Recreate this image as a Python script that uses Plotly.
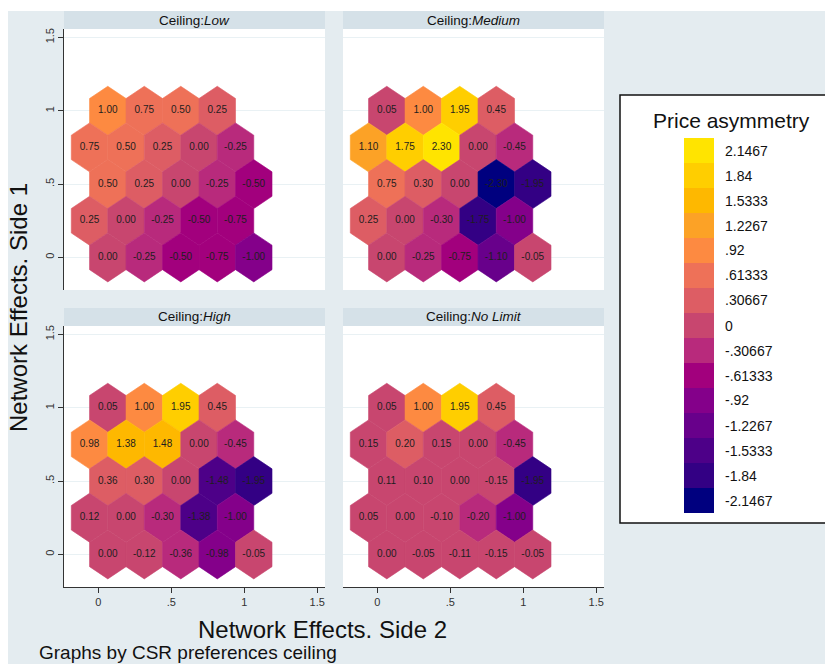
import numpy as np
import plotly.graph_objects as go

# ---------------- data ----------------
panel_names = ["Low", "Medium", "High", "No Limit"]
row_y = [1.0, 0.75, 0.5, 0.25, 0.0]   # hex rows, top to bottom

low_vals = [
    [1.00, 0.75, 0.50, 0.25],
    [0.75, 0.50, 0.25, 0.00, -0.25],
    [0.50, 0.25, 0.00, -0.25, -0.50],
    [0.25, 0.00, -0.25, -0.50, -0.75],
    [0.00, -0.25, -0.50, -0.75, -1.00],
]
medium_vals = [
    [0.05, 1.00, 1.95, 0.45],
    [1.10, 1.75, 2.30, 0.00, -0.45],
    [0.75, 0.30, 0.00, -2.30, -1.95],
    [0.25, 0.00, -0.30, -1.75, -1.00],
    [0.00, -0.25, -0.75, -1.10, -0.05],
]
high_vals = [
    [0.05, 1.00, 1.95, 0.45],
    [0.98, 1.38, 1.48, 0.00, -0.45],
    [0.36, 0.30, 0.00, -1.48, -1.95],
    [0.12, 0.00, -0.30, -1.38, -1.00],
    [0.00, -0.12, -0.36, -0.98, -0.05],
]
nolimit_vals = [
    [0.05, 1.00, 1.95, 0.45],
    [0.15, 0.20, 0.15, 0.00, -0.45],
    [0.11, 0.10, 0.00, -0.15, -1.95],
    [0.05, 0.00, -0.10, -0.20, -1.00],
    [0.00, -0.05, -0.11, -0.15, -0.05],
]
all_vals = [low_vals, medium_vals, high_vals, nolimit_vals]

legend_labels = ["2.1467", "1.84", "1.5333", "1.2267", ".92", ".61333", ".30667", "0",
                 "-.30667", "-.61333", "-.92", "-1.2267", "-1.5333", "-1.84", "-2.1467"]
legend_levels = [2.1467, 1.84, 1.5333, 1.2267, 0.92, 0.61333, 0.30667, 0.0,
                 -0.30667, -0.61333, -0.92, -1.2267, -1.5333, -1.84, -2.1467]
legend_colors = ["#ffe400", "#ffce00", "#feb800", "#fca226", "#fd8a41", "#ee7158",
                 "#dd5d64", "#c8466f", "#b82a7c", "#a2007d", "#84008a", "#68008b",
                 "#4d0088", "#330084", "#00007f"]

tick_vals = [0, 0.5, 1, 1.5]
tick_text = ["0", ".5", "1", "1.5"]

# ---------------- geometry / style ----------------
OFF = 8                      # page body margin
W, H = 833 - OFF, 664 - OFF
FONT = "Liberation Sans, Arial, sans-serif"
BG = "#e4ecf0"
BAR = "#d5e1e8"
HEX_W = 0.125        # half width
HEX_R = 1.0 / 6.0    # center-to-vertex (vertical)
ROW_START = [0.065, -0.06]

panels_px = [((64, 325), (29, 290)), ((343, 604), (29, 290)),
             ((64, 325), (326, 587)), ((343, 604), (326, 587))]
XR = [-0.235, 1.553]
YR = [-0.222, 1.557]


def px_x(p):
    return (p - OFF) / W


def px_y(p):
    return 1 - (p - OFF) / H


step = 4.6 / 15.0


def color_for(v):
    idx = int(np.sign(v) * np.floor(abs(v) / step + 0.5 + 1e-9))
    idx = max(-7, min(7, idx))
    return legend_colors[7 - idx]


fig = go.Figure()
layout_axes = {}
shapes = []
annotations = []

for p, (name, vals) in enumerate(zip(panel_names, all_vals)):
    n = p + 1
    xa = "x" if n == 1 else f"x{n}"
    ya = "y" if n == 1 else f"y{n}"
    (x0, x1), (y0, y1) = panels_px[p]
    tx, ty, tt = [], [], []
    for ri, (yy, row) in enumerate(zip(row_y, vals)):
        start = ROW_START[ri % 2]
        for k, v in enumerate(row):
            cx = start + 0.25 * k
            cy = yy
            hx = [cx, cx + HEX_W, cx + HEX_W, cx, cx - HEX_W, cx - HEX_W, cx]
            hy = [cy + HEX_R, cy + HEX_R / 2, cy - HEX_R / 2, cy - HEX_R, cy - HEX_R / 2, cy + HEX_R / 2, cy + HEX_R]
            c = color_for(v)
            fig.add_trace(go.Scatter(x=hx, y=hy, xaxis=xa, yaxis=ya, mode="lines",
                                     fill="toself", fillcolor=c,
                                     line=dict(color=c, width=0.6),
                                     hoverinfo="skip", showlegend=False))
            tx.append(cx)
            ty.append(cy)
            tt.append(f"{v:.2f}")
    fig.add_trace(go.Scatter(x=tx, y=ty, xaxis=xa, yaxis=ya, mode="text", text=tt,
                             textfont=dict(family=FONT, size=10, color="#1e1e1e"),
                             hoverinfo="skip", showlegend=False))

    bottom = p >= 2
    left = p % 2 == 0
    xkey = "xaxis" if n == 1 else f"xaxis{n}"
    ykey = "yaxis" if n == 1 else f"yaxis{n}"
    layout_axes[xkey] = dict(
        domain=[px_x(x0), px_x(x1)], anchor=ya, range=XR, showgrid=False, zeroline=False,
        tickvals=tick_vals, ticktext=tick_text,
        showticklabels=bottom, ticks="outside" if bottom else "", ticklen=5,
        tickcolor="#333333", showline=bottom, linecolor="#333333", linewidth=1,
        tickfont=dict(family=FONT, size=11, color="#333333"), fixedrange=True)
    layout_axes[ykey] = dict(
        domain=[px_y(y1), px_y(y0)], anchor=xa, range=YR, showgrid=True,
        gridcolor="#e9f1f4", gridwidth=1, zeroline=False,
        tickvals=tick_vals, ticktext=tick_text,
        showticklabels=left, ticks="outside" if left else "", ticklen=5,
        tickcolor="#333333", showline=left, linecolor="#333333", linewidth=1,
        tickangle=-90, tickfont=dict(family=FONT, size=11, color="#333333"), fixedrange=True)

    # title bar
    shapes.append(dict(type="rect", xref="paper", yref="paper",
                       x0=px_x(x0), x1=px_x(x1), y0=px_y(y0), y1=px_y(y0 - 18),
                       fillcolor=BAR, line=dict(width=0), layer="below"))
    annotations.append(dict(xref="paper", yref="paper", x=px_x((x0 + x1) / 2), y=px_y(y0 - 9),
                            text=f"Ceiling:<i>{name}</i>", showarrow=False,
                            xanchor="center", yanchor="middle",
                            font=dict(family=FONT, size=13.5, color="#111111")))

# white top strip
shapes.append(dict(type="rect", xref="paper", yref="paper", x0=0, x1=1, y0=px_y(11), y1=1,
                   fillcolor="white", line=dict(width=0), layer="below"))

# legend box
shapes.append(dict(type="rect", xref="paper", yref="paper", x0=px_x(620), x1=px_x(845),
                   y0=px_y(523), y1=px_y(95), fillcolor="white",
                   line=dict(color="#111111", width=1.5), layer="below"))
annotations.append(dict(xref="paper", yref="paper", x=px_x(731), y=px_y(120),
                        text="Price asymmetry", showarrow=False, xanchor="center", yanchor="middle",
                        font=dict(family=FONT, size=21, color="#111111")))
sw_top = 138
sw_h = 25
for i, (lab, col) in enumerate(zip(legend_labels, legend_colors)):
    t = sw_top + i * sw_h
    shapes.append(dict(type="rect", xref="paper", yref="paper", x0=px_x(684), x1=px_x(714),
                       y0=px_y(t + sw_h), y1=px_y(t), fillcolor=col, line=dict(width=0)))
    annotations.append(dict(xref="paper", yref="paper", x=px_x(723), y=px_y(t + sw_h / 2),
                            text=lab, showarrow=False, xanchor="left", yanchor="middle",
                            font=dict(family=FONT, size=14, color="#111111")))

# axis titles and note
annotations.append(dict(xref="paper", yref="paper", x=px_x(322), y=px_y(629),
                        text="Network Effects. Side 2", showarrow=False,
                        xanchor="center", yanchor="middle",
                        font=dict(family=FONT, size=24, color="#111111")))
annotations.append(dict(xref="paper", yref="paper", x=px_x(18), y=px_y(308),
                        text="Network Effects. Side 1", showarrow=False, textangle=-90,
                        xanchor="center", yanchor="middle",
                        font=dict(family=FONT, size=24, color="#111111")))
annotations.append(dict(xref="paper", yref="paper", x=px_x(37), y=px_y(664),
                        text="Graphs by CSR preferences ceiling", showarrow=False,
                        xanchor="left", yanchor="bottom", yshift=-1,
                        font=dict(family=FONT, size=19, color="#111111")))

fig.update_layout(width=W, height=H, margin=dict(l=0, r=0, t=0, b=0),
                  paper_bgcolor=BG, plot_bgcolor="white", showlegend=False,
                  shapes=shapes, annotations=annotations, **layout_axes)

fig.write_html("out.html")
